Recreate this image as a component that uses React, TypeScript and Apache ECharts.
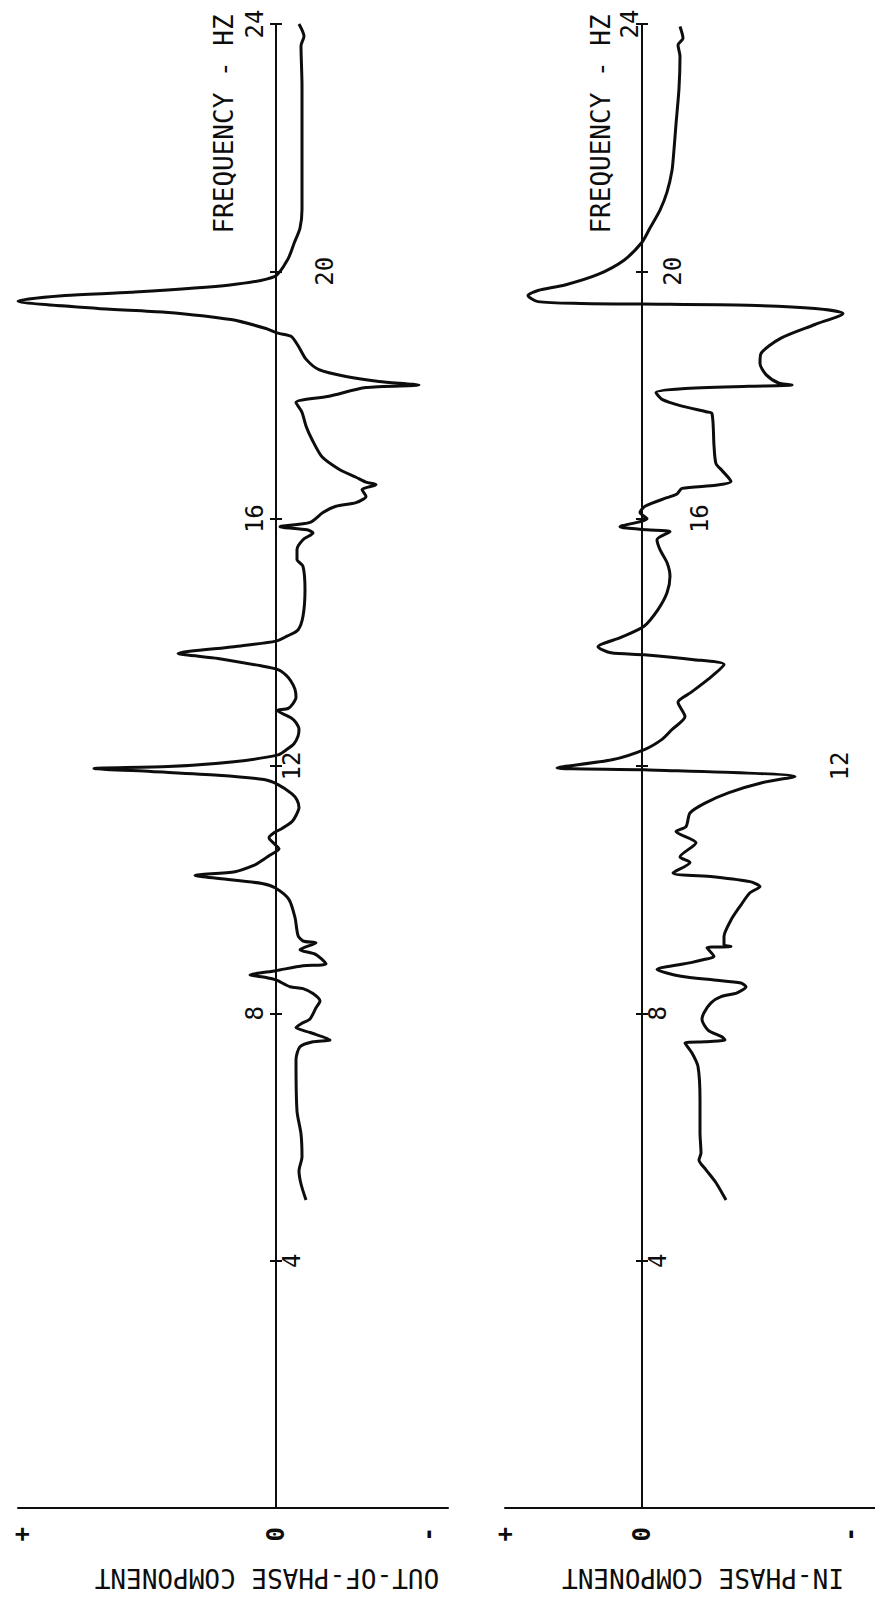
import React, { useEffect, useRef } from 'react';
import * as echarts from 'echarts';

// ---- Data (frequency in Hz, response in arbitrary units; + to the left) ----
const outPhaseFreq = [24.0, 23.8, 23.65, 23.0, 22.0, 21.0, 20.7, 20.45, 20.2, 19.92, 19.78, 19.66, 19.61, 19.52, 19.4, 19.34, 19.22, 19.08, 19.0, 18.95, 18.8, 18.58, 18.41, 18.3, 18.22, 18.16, 18.12, 17.98, 17.88, 17.72, 17.5, 17.28, 17.0, 16.8, 16.67, 16.59, 16.55, 16.47, 16.36, 16.26, 16.2, 16.1, 15.94, 15.87, 15.82, 15.77, 15.66, 15.5, 15.34, 15.23, 14.85, 14.42, 14.2, 14.1, 14.02, 13.93, 13.82, 13.74, 13.62, 13.56, 13.47, 13.37, 13.24, 13.11, 13.01, 12.93, 12.9, 12.78, 12.7, 12.59, 12.48, 12.36, 12.27, 12.18, 12.07, 11.99, 11.96, 11.91, 11.85, 11.78, 11.7, 11.55, 11.45, 11.33, 11.2, 11.1, 10.99, 10.92, 10.84, 10.73, 10.66, 10.55, 10.47, 10.4, 10.29, 10.23, 10.18, 10.1, 10.03, 9.84, 9.55, 9.26, 9.17, 9.14, 9.03, 8.95, 8.8, 8.77, 8.69, 8.62, 8.58, 8.54, 8.43, 8.4, 8.32, 8.2, 8.09, 7.91, 7.83, 7.77, 7.69, 7.57, 7.54, 7.46, 7.25, 6.42, 6.05, 5.68, 5.45, 5.24, 4.98];
const outPhaseValue = [-23, -28, -25, -26, -26, -26, -24, -18, -12, 1, 46, 145, 211, 258, 178, 111, 45, 11, -2, -15, -22, -30, -43, -70, -103, -143, -90, -53, -20, -26, -30, -36, -46, -63, -80, -90, -100, -86, -90, -80, -60, -47, -34, -4, -31, -37, -27, -21, -21, -27, -29, -27, -22, -11, 0, 42, 98, 58, 15, -2, -10, -15, -19, -20, -17, -12, -1, -15, -20, -23, -22, -18, -11, -2, 42, 108, 182, 125, 58, 12, -2, -16, -21, -23, -20, -16, -6, 2, 7, 1, -3, 7, 14, 21, 41, 81, 57, 14, 1, -13, -19, -22, -27, -40, -24, -40, -50, -27, 0, 26, 10, 0, -14, -27, -37, -44, -40, -34, -25, -20, -34, -54, -37, -24, -20, -21, -25, -26, -23, -25, -30];

const inPhaseFreq = [23.96, 23.77, 23.66, 23.48, 22.96, 22.38, 21.97, 21.63, 21.28, 20.99, 20.7, 20.47, 20.18, 19.95, 19.78, 19.69, 19.61, 19.51, 19.48, 19.47, 19.45, 19.4, 19.32, 19.14, 18.92, 18.67, 18.51, 18.33, 18.19, 18.16, 18.14, 18.1, 18.04, 17.93, 17.82, 17.73, 17.7, 17.18, 16.89, 16.78, 16.6, 16.54, 16.49, 16.4, 16.34, 16.2, 16.1, 16.0, 15.87, 15.82, 15.79, 15.66, 15.5, 15.29, 15.07, 14.8, 14.53, 14.26, 14.08, 13.93, 13.83, 13.8, 13.72, 13.64, 13.4, 13.19, 13.03, 12.8, 12.59, 12.43, 12.27, 12.1, 11.97, 11.94, 11.83, 11.73, 11.57, 11.4, 11.24, 11.02, 10.94, 10.76, 10.53, 10.44, 10.27, 10.21, 10.13, 10.05, 9.95, 9.73, 9.51, 9.24, 9.11, 9.08, 9.06, 8.92, 8.87, 8.82, 8.71, 8.6, 8.54, 8.49, 8.43, 8.33, 8.27, 8.17, 8.01, 7.9, 7.73, 7.62, 7.57, 7.54, 7.52, 7.36, 7.14, 6.6, 6.07, 5.74, 5.63, 5.47, 5.26, 4.98];
const inPhaseValue = [-38, -41, -36, -38, -37, -34, -32, -30, -25, -18, -8, 0, 18, 44, 77, 104, 114, 104, 61, 1, -106, -173, -201, -173, -139, -119, -118, -124, -137, -150, -107, -40, -14, -20, -40, -64, -70, -72, -74, -80, -89, -74, -40, -35, -25, -3, 2, -5, 22, -5, -28, -15, -18, -25, -28, -25, -16, -2, 21, 44, 31, -2, -52, -82, -66, -49, -36, -43, -30, -20, -3, 30, 85, -2, -153, -120, -87, -63, -48, -44, -34, -54, -38, -48, -31, -71, -108, -118, -108, -98, -89, -82, -82, -89, -65, -72, -62, -49, -15, -39, -72, -99, -104, -95, -79, -69, -62, -60, -66, -80, -83, -63, -43, -50, -56, -58, -58, -59, -57, -64, -74, -84];

// Tick positions (Hz) and which labels sit on which side of each frequency axis
const freqTicks = [4, 8, 12, 16, 20, 24];
const outLeftLabels = [8, 16, 24];
const outRightLabels = [4, 12];
const outFarLabels = [20];
const inLeftLabels = [24];
const inRightLabels = [4, 8];
const inRight20 = [20];
const inRight16 = [16];
const inRight12 = [12];

// Value-axis sign marks (+ / 0 / -)
const outSigns = [254, 0, -152];
const inSigns = [137, 0, -208];

const outTitle = 'OUT-OF-PHASE COMPONENT';
const inTitle = 'IN-PHASE COMPONENT';
const freqTitle = 'FREQUENCY - HZ';

const FONT = '"DejaVu Sans Mono", "Liberation Mono", monospace';
const INK = '#0d0d0d';

// layout (pixels)
const G1 = { left: 18, zero: 276, right: 448 };
const G2 = { left: 505, zero: 642, right: 875 };
const TOP = 24;
const HEIGHT = 1484;

function zip(f: number[], v: number[]) {
  return f.map((fr, i) => [v[i], fr]);
}

function signAxis(grid: number, g: { left: number; zero: number; right: number }, signs: number[]) {
  return {
    type: 'value',
    gridIndex: grid,
    position: 'bottom',
    min: g.zero - g.right,
    max: g.zero - g.left,
    inverse: true,
    axisLine: { show: true, onZero: false, lineStyle: { color: INK, width: 2 } },
    axisTick: { show: false },
    splitLine: { show: false },
    axisLabel: {
      customValues: signs,
      rotate: 90,
      margin: 19,
      fontFamily: FONT,
      fontSize: 24,
      fontWeight: 'bold',
      color: INK,
      formatter: (v: number) => (v > 0 ? '+' : v < 0 ? '-' : '0'),
    },
  };
}

function freqAxis(
  grid: number,
  g: { left: number; zero: number; right: number },
  position: 'left' | 'right',
  labels: number[],
  margin: number,
  showLine: boolean,
  showTicks: boolean
) {
  const offset = position === 'left' ? g.left - g.zero : g.zero - g.right;
  return {
    type: 'value',
    gridIndex: grid,
    position,
    offset,
    min: 0,
    max: 24,
    interval: 4,
    axisLine: { show: showLine, onZero: false, lineStyle: { color: INK, width: 2 } },
    axisTick: { show: showTicks, length: 6, customValues: freqTicks, lineStyle: { color: INK, width: 2 } },
    axisLabel: { customValues: labels, rotate: 90, margin, fontFamily: FONT, fontSize: 24, color: INK },
    splitLine: { show: false },
  };
}

export default function App() {
  const ref = useRef<HTMLDivElement>(null);
  useEffect(() => {
    if (!ref.current) return;
    const chart = echarts.init(ref.current, null, { renderer: 'svg' });
    const titleStyle = { fontFamily: FONT, fontSize: 26, fill: INK, align: 'center', verticalAlign: 'middle' };
    const option: any = {
      animation: false,
      backgroundColor: '#ffffff',
      grid: [
        { left: G1.left, top: TOP, width: G1.right - G1.left, height: HEIGHT, outerBoundsMode: 'none', containLabel: false },
        { left: G2.left, top: TOP, width: G2.right - G2.left, height: HEIGHT, outerBoundsMode: 'none', containLabel: false },
      ],
      xAxis: [signAxis(0, G1, outSigns), signAxis(1, G2, inSigns)],
      yAxis: [
        freqAxis(0, G1, 'left', outLeftLabels, 9, true, true),
        freqAxis(0, G1, 'right', outRightLabels, 4, false, true),
        freqAxis(0, G1, 'right', outFarLabels, 37, false, false),
        freqAxis(1, G2, 'left', inLeftLabels, 0, true, true),
        freqAxis(1, G2, 'right', inRightLabels, 4, false, true),
        freqAxis(1, G2, 'right', inRight20, 19, false, false),
        freqAxis(1, G2, 'right', inRight16, 46, false, false),
        freqAxis(1, G2, 'right', inRight12, 186, false, false),
      ],
      series: [
        {
          name: outTitle,
          type: 'line',
          xAxisIndex: 0,
          yAxisIndex: 0,
          data: zip(outPhaseFreq, outPhaseValue),
          showSymbol: false,
          symbol: 'none',
          smooth: 0.25,
          clip: false,
          z: 5,
          lineStyle: { color: INK, width: 3 },
        },
        {
          name: inTitle,
          type: 'line',
          xAxisIndex: 1,
          yAxisIndex: 3,
          data: zip(inPhaseFreq, inPhaseValue),
          showSymbol: false,
          symbol: 'none',
          smooth: 0.25,
          clip: false,
          z: 5,
          lineStyle: { color: INK, width: 3 },
        },
      ],
      graphic: [
        { type: 'text', x: 224, y: 124, rotation: Math.PI / 2, style: { ...titleStyle, text: freqTitle } },
        { type: 'text', x: 601, y: 124, rotation: Math.PI / 2, style: { ...titleStyle, text: freqTitle } },
        { type: 'text', x: 267, y: 1578, rotation: Math.PI, style: { ...titleStyle, text: outTitle } },
        { type: 'text', x: 703, y: 1578, rotation: Math.PI, style: { ...titleStyle, text: inTitle } },
      ],
    };
    chart.setOption(option);
    return () => chart.dispose();
  }, []);
  return (
    <div
      ref={ref}
      style={{ position: 'absolute', left: 0, top: 0, width: 875, height: 1597, background: '#fff' }}
    />
  );
}
